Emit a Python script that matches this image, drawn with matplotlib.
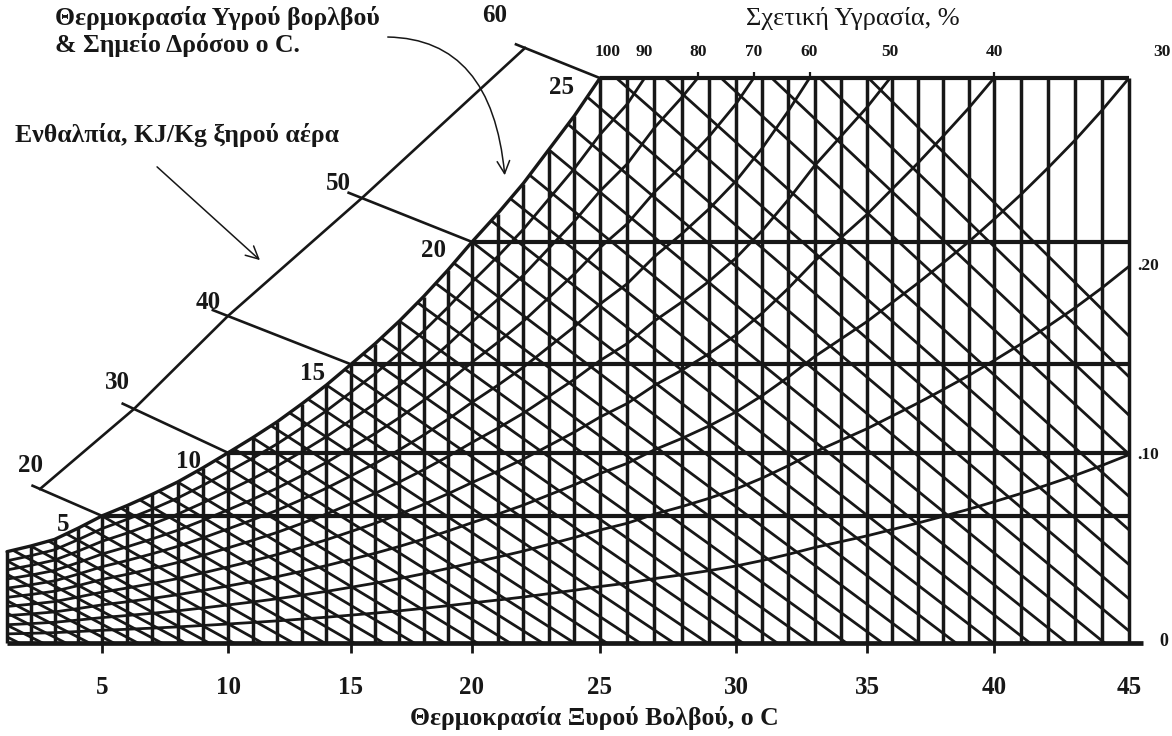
import numpy as np
import matplotlib
matplotlib.use("Agg")
import matplotlib.pyplot as plt
from matplotlib.patches import Polygon
from matplotlib.collections import LineCollection

# saturation line of the chart (dry bulb oC -> chart humidity units).
# values below 1 oC and above 25 oC lie outside the drawn area; they only set where
# the wet-bulb lines enter at the left edge and where the RH curves leave at the top.
SAT_T = list(range(-5, 46))
SAT_Y = [3.2, 3.45, 3.7, 3.95, 4.25, 4.55,
         4.85, 5.15, 5.5, 6.1, 6.75, 7.3, 7.9, 8.55, 9.3, 10.1,
         10.9, 11.75, 12.7, 13.7, 14.8, 15.9, 17.1, 18.4, 19.8, 21.3,
         22.8, 24.4, 26.2, 28.0, 30.0, 31.8, 34.2, 36.2, 38.4, 40.9,
         43.8, 47.1, 50.7, 53.8, 56.9, 60.3, 63.7, 67.3, 71.0, 75.0,
         79.4, 84.1, 89.0, 94.3, 100.0]

T_MIN, T_MAX = 1, 45
Y_TOP = 30.0
DEW_POINTS = [5, 10, 15, 20, 25]
RH_LEVELS = [10, 20, 30, 40, 50, 60, 70, 80, 90]
RH_TOP_LABELS = [100, 90, 80, 70, 60, 50, 40, 30]
RH_RIGHT_LABELS = [20, 10]
# wet-bulb lines as they are spaced on the scan
WET_BULB = np.arange(-4.0, 29.6, 0.75)
WB_SLOPE = 0.62

ENTH_VALUES = [20, 30, 40, 50, 60]
ENTH_WB = [5, 10, 15, 20, 25]
ENTH_T = [2.39, 6.27, 10.0, 15.45, 22.07]
ENTH_Y = [8.18, 12.43, 17.37, 23.63, 31.6]

X_TICKS = [5, 10, 15, 20, 25, 30, 35, 40, 45]

# the scan is not quite linear along x: calibrate the scale on the printed ticks
CAL_T = [-10, 1, 5, 10, 15, 20, 25, 30, 35, 40, 45, 60]
CAL_PX = [-254, 7, 102, 228, 351, 472, 600, 736, 867, 994, 1129, 1534]

W, H = 1172, 736
INK = '#171717'
FONT = ['Liberation Serif', 'DejaVu Serif']

sat = dict(zip(SAT_T, SAT_Y))


def fwd(t):
    return np.interp(t, CAL_T, CAL_PX)


def inv(p):
    return np.interp(p, CAL_PX, CAL_T)


fig = plt.figure(figsize=(W / 100, H / 100), dpi=100)
ax = fig.add_axes([0, 0, 1, 1])
ax.set_xscale('function', functions=(fwd, inv))
ax.set_xlim(inv(0), inv(W))
ax.set_ylim(-93 / 18.83, 643 / 18.83)
ax.axis('off')

# region of the chart, used to clip the RH curves and wet-bulb lines
region = [(T_MIN, 0), (T_MAX, 0), (T_MAX, Y_TOP), (25, Y_TOP)]
region += [(t, sat[t]) for t in range(24, T_MIN - 1, -1)]
clip = Polygon(region, closed=True, facecolor='none', edgecolor='none')
ax.add_patch(clip)

ts = np.arange(T_MIN, T_MAX + 1)
sat_row = np.array([sat[t] for t in ts])

# relative humidity curves
rh_segs = [np.column_stack([ts, rh / 100 * sat_row]) for rh in RH_LEVELS]
rh_lc = LineCollection(rh_segs, colors=INK, linewidths=2.0, capstyle='round')
ax.add_collection(rh_lc)
rh_lc.set_clip_path(clip)

# wet-bulb lines, starting on the saturation line
wb_segs = []
for tw in WET_BULB:
    y0 = np.interp(tw, SAT_T, SAT_Y)
    run = 70
    wb_segs.append([(tw, y0), (tw + run, y0 - WB_SLOPE * run)])
wb_lc = LineCollection(wb_segs, colors=INK, linewidths=2.0)
ax.add_collection(wb_lc)
wb_lc.set_clip_path(clip)

# dry-bulb verticals
ax.vlines(ts, 0, np.minimum(sat_row, Y_TOP), colors=INK, linewidth=2.5)

# saturation line, top edge, dew-point lines, base line
ax.plot(ts[ts <= 25], sat_row[ts <= 25], color=INK, lw=2.4, solid_capstyle='round')
ax.hlines([sat[d] for d in DEW_POINTS], DEW_POINTS, T_MAX, colors=INK, linewidth=3.0)
ax.hlines(0, T_MIN, T_MAX + 0.5, colors=INK, linewidth=3.4)
ax.vlines(X_TICKS[:-1], -0.55, 0, colors=INK, linewidth=2.0)

# RH marks on the top edge
rh_cross = {}
for rh in RH_TOP_LABELS[1:]:
    rh_cross[rh] = float(np.interp(Y_TOP, rh / 100 * sat_row, ts))
rh_cross[100] = 25.0
ax.vlines([rh_cross[r] for r in [80, 70, 60, 40]], Y_TOP, Y_TOP + 0.35,
          colors=INK, linewidth=1.6)

# enthalpy scale and the wet-bulb extensions that reach it
ax.plot(ENTH_T, ENTH_Y, color=INK, lw=1.9)
for tw, et, ey in zip(ENTH_WB, ENTH_T, ENTH_Y):
    x0, y0 = tw, sat[tw]
    x1, y1 = et + 0.12 * (et - x0), ey + 0.12 * (ey - y0)
    ax.plot([x0, x1], [y0, y1], color=INK, lw=1.9)


def label(s, xy, off, size=18, weight='bold', ha='center'):
    ax.annotate(s, xy, xytext=off, textcoords='offset pixels', ha=ha, va='center',
                fontsize=size, fontweight=weight, family=FONT, color=INK)


for t in X_TICKS:
    label(str(t), (t, 0), (0, -45))
for d in DEW_POINTS:
    label(str(d), (d, sat[d]), (-39, -9))
enth_off = [(-10, 23), (-17, 26), (-20, 13), (-24, 15), (-30, 32)]
for h, et, ey, off in zip(ENTH_VALUES, ENTH_T, ENTH_Y, enth_off):
    label(str(h), (et, ey), off)
for rh in RH_TOP_LABELS:
    dx = 33 if rh == 30 else (8 if rh == 100 else 0)
    label(str(rh), (rh_cross[rh], Y_TOP), (dx, 26), size=12.5)
for rh in RH_RIGHT_LABELS:
    label('.' + str(rh), (T_MAX, rh / 100 * sat[T_MAX]), (8, 0), size=12.5, ha='left')
label('0', (T_MAX + 0.5, 0), (21, 2), size=13)


def fpx(x, y):
    return x / W, 1 - y / H


fig.text(*fpx(55, 18), 'Θερμοκρασία Υγρού βορλβού', ha='left', va='center',
         fontsize=18.5, fontweight='bold', family=FONT, color=INK)
fig.text(*fpx(55, 45), '& Σημείο Δρόσου ο C.', ha='left', va='center',
         fontsize=18.5, fontweight='bold', family=FONT, color=INK)
fig.text(*fpx(15, 135), 'Ενθαλπία, KJ/Kg ξηρού αέρα', ha='left', va='center',
         fontsize=18.5, fontweight='bold', family=FONT, color=INK)
fig.text(*fpx(853, 18), 'Σχετική Υγρασία, %', ha='center', va='center',
         fontsize=19, family=FONT, color=INK)
fig.text(*fpx(594, 718), 'Θερμοκρασία Ξυρού Βολβού, ο C', ha='center', va='center',
         fontsize=18.5, fontweight='bold', family=FONT, color=INK)

# pointer arrows
ax.annotate('', xy=(262, H - 262), xytext=(155, H - 165), xycoords='figure pixels',
            arrowprops=dict(arrowstyle='->,head_length=0.9,head_width=0.45',
                            color=INK, lw=1.1))
ax.annotate('', xy=(505, H - 178), xytext=(385, H - 37), xycoords='figure pixels',
            arrowprops=dict(arrowstyle='->,head_length=0.9,head_width=0.45',
                            connectionstyle='angle3,angleA=0,angleB=95',
                            color=INK, lw=1.1))

fig.savefig('out.png', dpi=100)
